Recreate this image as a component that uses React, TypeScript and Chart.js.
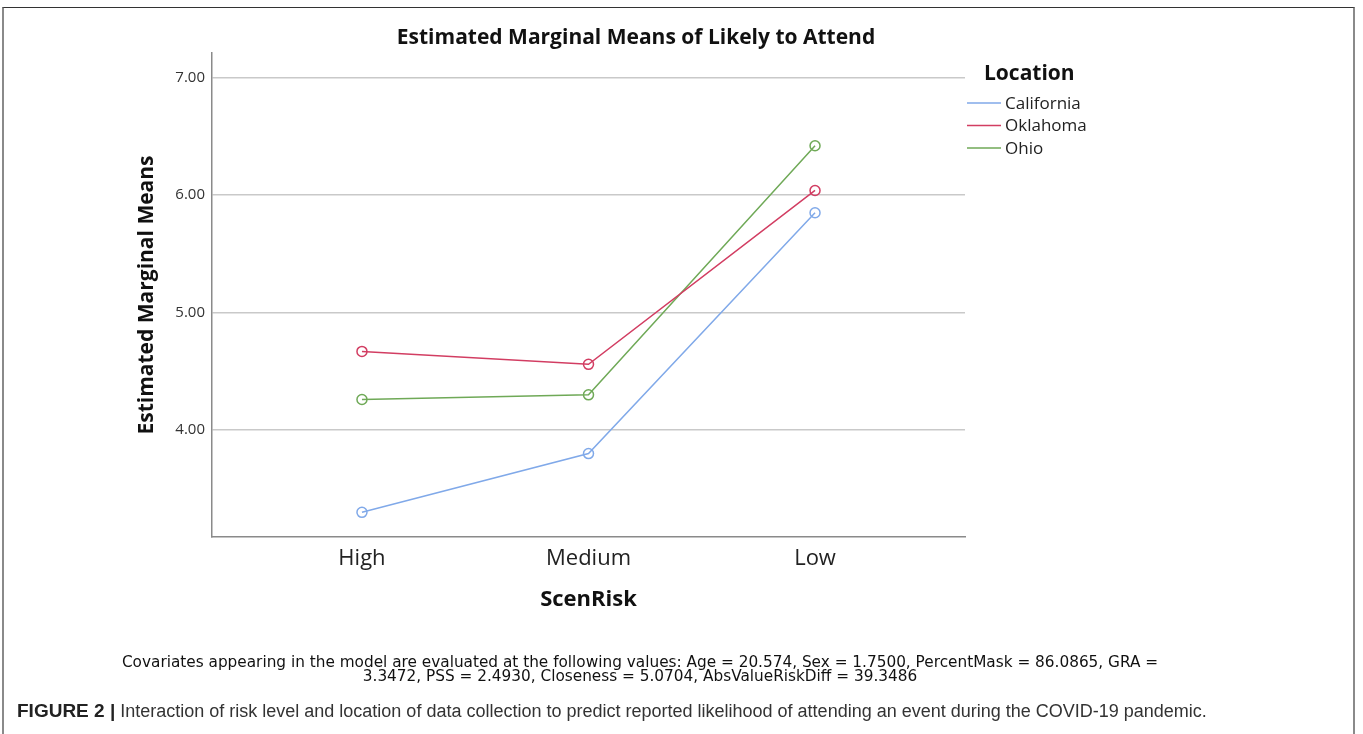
import React, { useEffect, useRef } from "react";
import { Chart, registerables } from "chart.js";

Chart.register(...registerables);

const categories = ["High", "Medium", "Low"];
const seriesNames = ["California", "Oklahoma", "Ohio"];
const california = [3.3, 3.8, 5.85];
const oklahoma = [4.67, 4.56, 6.04];
const ohio = [4.26, 4.3, 6.42];
const yTicks = [4, 5, 6, 7];
const seriesColors = ["#80a9e9", "#d23d62", "#6fa957"];

const titleText = "Estimated Marginal Means of Likely to Attend";
const legendTitle = "Location";
const xTitle = "ScenRisk";
const yTitle = "Estimated Marginal Means";
const covariateLines = [
  "Covariates appearing in the model are evaluated at the following values: Age = 20.574, Sex = 1.7500, PercentMask = 86.0865, GRA =",
  "3.3472, PSS = 2.4930, Closeness = 5.0704, AbsValueRiskDiff = 39.3486",
];
const captionBold = "FIGURE 2 |";
const captionText =
  " Interaction of risk level and location of data collection to predict reported likelihood of attending an event during the COVID-19 pandemic.";

const FONT = "'Open Sans', sans-serif";
const FOOT_FONT = "'DejaVu Sans', sans-serif";
const CAPTION_FONT = "'Liberation Sans', Arial, sans-serif";

const seriesValues = [california, oklahoma, ohio];

const decorPlugin = {
  id: "decor",
  afterDraw(chart: any) {
    const ctx = chart.ctx as CanvasRenderingContext2D;
    ctx.save();
    // chart title
    ctx.fillStyle = "#111";
    ctx.font = `bold 21px ${FONT}`;
    ctx.textAlign = "center";
    ctx.textBaseline = "middle";
    ctx.fillText(titleText, 636, 38);

    // legend
    ctx.textAlign = "left";
    ctx.font = `bold 21px ${FONT}`;
    ctx.fillText(legendTitle, 984, 74);
    ctx.font = `17px ${FONT}`;
    chart.data.datasets.forEach((ds: any, i: number) => {
      const y = 103 + i * 22.5;
      ctx.strokeStyle = ds.borderColor;
      ctx.lineWidth = 1.5;
      ctx.beginPath();
      ctx.moveTo(967, y);
      ctx.lineTo(1001, y);
      ctx.stroke();
      ctx.fillStyle = "#222";
      ctx.fillText(ds.label, 1005, y + 1);
    });

    // covariates footer
    ctx.fillStyle = "#111";
    ctx.textAlign = "center";
    ctx.font = `15.3px ${FOOT_FONT}`;
    covariateLines.forEach((line, i) => {
      ctx.fillText(line, 640, 663 + i * 14.5);
    });

    // caption
    ctx.textAlign = "left";
    ctx.font = `bold 19px ${CAPTION_FONT}`;
    ctx.fillStyle = "#222";
    ctx.fillText(captionBold, 17, 712);
    const w = ctx.measureText(captionBold).width;
    ctx.font = `18px ${CAPTION_FONT}`;
    ctx.fillStyle = "#333";
    ctx.fillText(captionText, 17 + w, 712);
    ctx.restore();
  },
};

export default function App() {
  const canvasRef = useRef<HTMLCanvasElement | null>(null);

  useEffect(() => {
    const canvas = canvasRef.current;
    if (!canvas) return;
    const chart = new Chart(canvas, {
      type: "line",
      data: {
        datasets: seriesNames.map((name, i) => ({
          label: name,
          data: seriesValues[i].map((v, j) => ({ x: j, y: v })),
          borderColor: seriesColors[i],
          backgroundColor: "rgba(255,255,255,0)",
          borderWidth: 1.5,
          pointRadius: 5,
          pointHoverRadius: 5,
          pointBorderWidth: 1.5,
          pointBackgroundColor: "rgba(255,255,255,0)",
          pointBorderColor: seriesColors[i],
          tension: 0,
        })),
      },
      options: {
        responsive: false,
        animation: false,
        devicePixelRatio: 1,
        layout: { padding: { left: 130, top: 53, right: 398, bottom: 117 } },
        plugins: {
          legend: { display: false },
          title: { display: false },
          tooltip: { enabled: false },
        },
        scales: {
          x: {
            type: "linear",
            min: -0.662,
            max: 2.662,
            afterBuildTicks: (scale: any) => {
              scale.ticks = categories.map((_, i) => ({ value: i }));
            },
            afterFit: (scale: any) => {
              scale.height = 80;
            },
            ticks: {
              callback: (v: any) => categories[Number(v)] ?? "",
              font: { family: FONT, size: 22 },
              color: "#222",
              padding: 9,
              maxRotation: 0,
              autoSkip: false,
            },
            grid: { display: false, drawTicks: false },
            border: { display: true, color: "#8a8a8a", width: 1.5 },
            title: {
              display: true,
              text: xTitle,
              font: { family: FONT, size: 22, weight: "bold" },
              color: "#111",
              padding: { top: 0, bottom: 4 },
            },
          },
          y: {
            type: "linear",
            min: 3.09,
            max: 7.21,
            afterBuildTicks: (scale: any) => {
              scale.ticks = yTicks.map((v) => ({ value: v }));
            },
            afterFit: (scale: any) => {
              scale.width = 82;
            },
            ticks: {
              callback: (v: any) => Number(v).toFixed(2),
              font: { family: FONT, size: 15 },
              color: "#333",
              padding: 7,
            },
            grid: { color: "#c9c9c9", lineWidth: 1.5, drawTicks: false },
            border: { display: true, color: "#8a8a8a", width: 1.5 },
            title: {
              display: true,
              text: yTitle,
              font: { family: FONT, size: 21, weight: "bold" },
              color: "#111",
              padding: { top: 4, bottom: 0 },
            },
          },
        },
      },
      plugins: [decorPlugin],
    });
    return () => chart.destroy();
  }, []);

  return (
    <div style={{ position: "absolute", left: 0, top: 0, width: 1363, height: 734, overflow: "hidden", background: "#fff" }}>
      <div
        style={{
          position: "absolute",
          left: 2,
          top: 7,
          width: 1353,
          height: 760,
          borderTop: "1px solid #333",
          borderLeft: "2px solid #8a8a8a",
          borderRight: "2px solid #8a8a8a",
          boxSizing: "border-box",
        }}
      />
      <canvas ref={canvasRef} width={1363} height={734} style={{ position: "absolute", left: 0, top: 0, display: "block" }} />
    </div>
  );
}
